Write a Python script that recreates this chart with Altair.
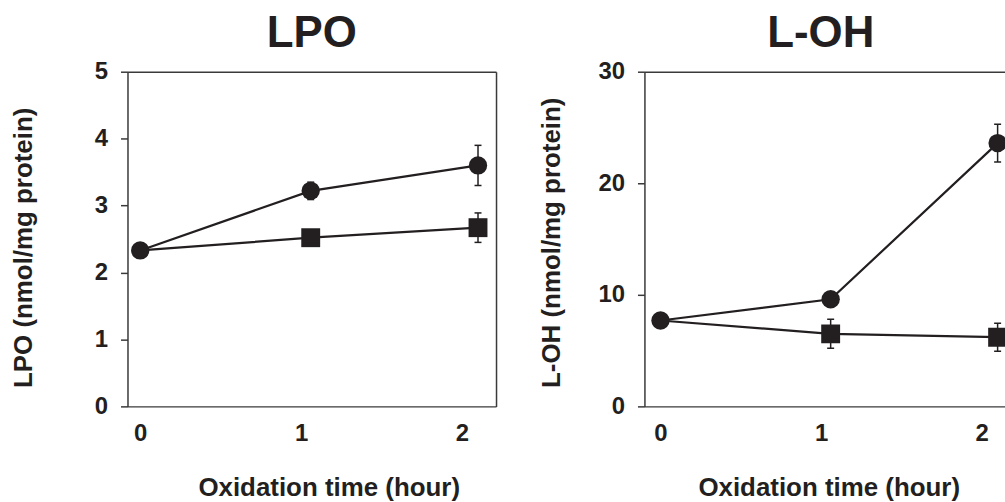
import altair as alt
import pandas as pd

# ---- data ----
times = [0, 1.06, 2.1]          # oxidation time (hour) at which points are drawn
tick_hours = [0, 1, 2]

lpo_circle = [2.33, 3.22, 3.60]
lpo_circle_err = [0.05, 0.13, 0.30]
lpo_square = [2.33, 2.52, 2.67]
lpo_square_err = [0.05, 0.10, 0.22]

loh_circle = [7.7, 9.6, 23.6]
loh_circle_err = [0.3, 0.4, 1.7]
loh_square = [7.7, 6.5, 6.2]
loh_square_err = [0.3, 1.3, 1.25]

INK = "#231f20"
FRAME = "#3a3a3a"
FONT = "Liberation Sans"


def make_df(circ, circ_err, sq, sq_err):
    rows = []
    for t, v, e in zip(times, sq, sq_err):
        rows.append({"t": t, "v": v, "lo": v - e, "hi": v + e, "series": "square"})
    for t, v, e in zip(times, circ, circ_err):
        rows.append({"t": t, "v": v, "lo": v - e, "hi": v + e, "series": "circle"})
    return pd.DataFrame(rows)


def panel(title, ytitle, ymax, ystep, df, xdomain, width, ytitle_pad, xtitle_x,
          right_border, clip, title_dx):
    xs = alt.Scale(domain=xdomain, nice=False, zero=False)
    ys = alt.Scale(domain=[0, ymax], nice=False)
    yvals = list(range(0, ymax + 1, ystep))
    base = alt.Chart(df)

    x_axis = alt.Axis(values=tick_hours, format="d", ticks=False, grid=False,
                      domain=True, domainColor=FRAME, domainWidth=1.5,
                      labelFont=FONT, labelFontSize=24, labelFontWeight="bold",
                      labelColor=INK, labelPadding=15,
                      title="Oxidation time (hour)", titleFont=FONT,
                      titleFontSize=26, titleFontWeight="bold", titleColor=INK,
                      titlePadding=29, titleX=xtitle_x)
    y_axis = alt.Axis(values=yvals, format="d", ticks=True, tickSize=7,
                      tickColor=FRAME, tickWidth=1.5, grid=False,
                      domain=True, domainColor=FRAME, domainWidth=1.5,
                      labelFont=FONT, labelFontSize=24, labelFontWeight="bold",
                      labelColor=INK, labelPadding=13,
                      title=ytitle, titleFont=FONT, titleFontSize=26,
                      titleFontWeight="bold", titleColor=INK,
                      titlePadding=ytitle_pad, titleY=317, titleAlign="left")
    top_axis = alt.Axis(orient="top", labels=False, ticks=False, grid=False,
                        domain=True, domainColor=FRAME, domainWidth=1.5, title=None)
    right_axis = alt.Axis(orient="right", labels=False, ticks=False, grid=False,
                          domain=True, domainColor=FRAME, domainWidth=1.5, title=None)

    lines = base.mark_line(color=INK, strokeWidth=2.2, clip=clip).encode(
        x=alt.X("t:Q", scale=xs, axis=x_axis),
        y=alt.Y("v:Q", scale=ys, axis=y_axis),
        detail="series:N",
        order="t:Q",
    )
    bars = base.mark_rule(color=INK, strokeWidth=1.5, clip=clip).encode(
        x=alt.X("t:Q", scale=xs, axis=None),
        y=alt.Y("lo:Q", scale=ys, axis=None),
        y2="hi:Q",
    )
    cap_hi = base.mark_rule(color=INK, strokeWidth=1.5, xOffset=-3.5,
                            x2Offset=3.5, clip=clip).encode(
        x=alt.X("t:Q", scale=xs, axis=None), x2="t:Q",
        y=alt.Y("hi:Q", scale=ys, axis=None),
    )
    cap_lo = base.mark_rule(color=INK, strokeWidth=1.5, xOffset=-3.5,
                            x2Offset=3.5, clip=clip).encode(
        x=alt.X("t:Q", scale=xs, axis=None), x2="t:Q",
        y=alt.Y("lo:Q", scale=ys, axis=None),
    )
    # the shared starting point at time 0 is drawn as a circle only
    squares = base.transform_filter(
        (alt.datum.series == "square") & (alt.datum.t > 0)
    ).mark_point(
        shape="square", filled=True, size=360, color=INK, opacity=1, clip=clip
    ).encode(
        x=alt.X("t:Q", scale=xs, axis=top_axis),
        y=alt.Y("v:Q", scale=ys, axis=right_axis if right_border else None),
    )
    circles = base.transform_filter(alt.datum.series == "circle").mark_point(
        shape="circle", filled=True, size=340, color=INK, opacity=1, clip=clip
    ).encode(
        x=alt.X("t:Q", scale=xs, axis=None),
        y=alt.Y("v:Q", scale=ys, axis=None),
    )
    return alt.layer(lines, bars, cap_hi, cap_lo, squares, circles).resolve_axis(
        x="independent", y="independent"
    ).properties(
        width=width, height=336,
        view=alt.ViewBackground(stroke=None),
        title=alt.TitleParams(title, font=FONT, fontSize=44, fontWeight="bold",
                              color=INK, anchor="middle", offset=4, dx=title_dx),
    )


left = panel("LPO", "LPO (nmol/mg protein)", 5, 1,
             make_df(lpo_circle, lpo_circle_err, lpo_square, lpo_square_err),
             [-0.079, 2.212], 370, 58, 202, True, False, 0)
right = panel("L-OH", "L-OH (nmol/mg protein)", 30, 10,
              make_df(loh_circle, loh_circle_err, loh_square, loh_square_err),
              [-0.1, 2.146], 362, 34, 185, False, True, -4)

chart = alt.hconcat(left, right, spacing=42).properties(
    padding={"left": 10, "top": 11, "right": 0, "bottom": 0},
    background="white",
).configure_view(stroke=None)

chart.save("out.html", embed_options={"renderer": "svg", "actions": False})
